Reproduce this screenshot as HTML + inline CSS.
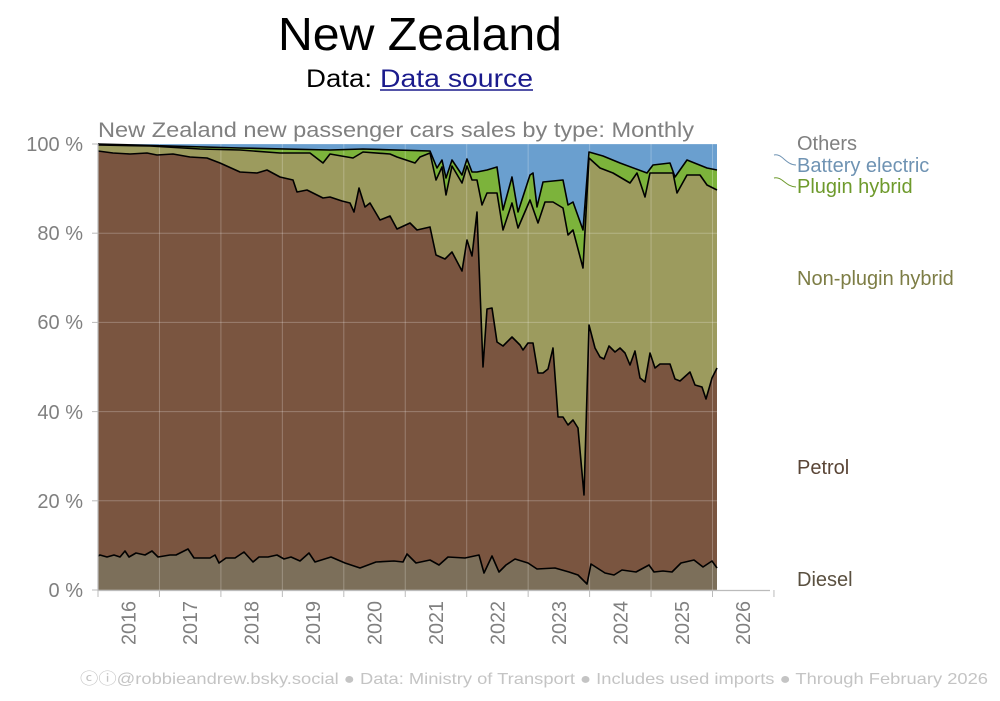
<!DOCTYPE html>
<html><head><meta charset="utf-8"><style>
html,body{margin:0;padding:0;background:#fff;}
svg{display:block;font-family:"Liberation Sans",sans-serif;}
</style></head><body>
<svg id="c" width="1000" height="701" viewBox="0 0 1000 701" xmlns="http://www.w3.org/2000/svg">
<text x="420" y="50" font-size="46" text-anchor="middle" textLength="284" lengthAdjust="spacingAndGlyphs" fill="#000">New Zealand</text>
<text x="306" y="87" font-size="25" textLength="66" lengthAdjust="spacingAndGlyphs" fill="#000">Data:</text>
<text x="380" y="87" font-size="25" textLength="153" lengthAdjust="spacingAndGlyphs" fill="#1a1a8c">Data source</text>
<line x1="380" y1="90" x2="533" y2="90" stroke="#1a1a8c" stroke-width="1.5"/>
<text x="98" y="137" font-size="21" textLength="596" lengthAdjust="spacingAndGlyphs" fill="#808080">New Zealand new passenger cars sales by type: Monthly</text>
<g id="plot"></g>
<g font-size="20" fill="#808080" text-anchor="end">
<text x="83" y="151">100 %</text><text x="83" y="240">80 %</text><text x="83" y="329">60 %</text>
<text x="83" y="419">40 %</text><text x="83" y="508">20 %</text><text x="83" y="597">0 %</text>
</g>
<g id="years" font-size="20" fill="#808080"></g>
<g font-size="20">
<text x="797" y="150" fill="#808080">Others</text>
<text x="797" y="172" fill="#6f93b3">Battery electric</text>
<text x="797" y="193" fill="#6e9a2c">Plugin hybrid</text>
<text x="797" y="285" fill="#7d7d45">Non-plugin hybrid</text>
<text x="797" y="474" fill="#5a4536">Petrol</text>
<text x="797" y="586" fill="#5a5040">Diesel</text>
</g>
<path d="M774 155 C782 153,786 165,796 165" fill="none" stroke="#6f93b3" stroke-width="1"/>
<path d="M774 178 C782 176,786 187,796 187" fill="none" stroke="#6e9a2c" stroke-width="1"/>
<text x="80" y="684" font-size="16" fill="#c4c4c4" textLength="908" lengthAdjust="spacingAndGlyphs">ⓒⓘ@robbieandrew.bsky.social  ●  Data: Ministry of Transport  ●  Includes used imports  ●  Through February 2026</text>
</svg>
<script>
function parse(s){return s.trim().split(/\s*,\s*/).map(p=>p.split(':').map(Number));}
var D=parse("98:556,100:555,107:557,114:555,120:557,125:551,129:557,136:553,145:555,152:551,158:557,170:555,176:555,188:549,194:558,210:558,215:555,219:563,226:558,235:558,244:552,253:562,259:557,268:557,277:555,284:559,291:557,300:561,309:553,315:562,331:557,345:563,360:568,376:562,394:561,403:562,407:554,416:563,430:560,439:565,448:557,465:558,479:555,484:573,492:556,499:572,506:565,515:559,528:563,537:569,555:568,569:572,578:575,587:584,591:564,605:573,614:575,622:570,636:572,649:565,654:572,663:571,672:572,681:563,694:560,703:567,712:561,717:568");
var P=parse("98:151,113:153,130:154,147:153,157:155,173:154,190:157,207:158,220:163,240:172,257:173,267:170,280:177,293:180,297:192,307:190,323:198,330:197,342:201,350:203,354:212,359:188,365:207,370:203,380:220,390:216,397:229,410:223,417:230,430:227,436:255,445:259,452:252,462:271,467:240,472:256,477:212,483:367,487:309,492:308,497:342,503:346,512:337,520:345,523:350,528:343,533:343,538:373,543:373,548:369,553:348,558:417,563:417,568:425,573:420,578:428,584:495,589:325,595:348,600:357,604:359,609:346,615:352,620:348,625:353,630:365,635:351,640:378,645:382,650:353,655:368,660:364,670:364,675:379,680:381,690:372,695:385,702:387,706:399,712:378,717:368");
var N=parse("98:145,150:146,200:149,240:150,280:153,310:153,323:163,330:154,353:158,363:152,390:154,397:157,415:163,420:157,430:153,436:180,442:167,446:195,452:166,462:183,467:166,472:180,477:180,482:205,487:193,497:193,503:230,512:203,518:228,530:200,538:223,545:202,553:202,563:208,568:235,573:230,583:268,589:158,600:168,613:173,630:183,637:173,645:197,650:173,673:173,677:193,687:175,700:175,707:185,717:190");
var H=parse("98:144,240:148,330:150,363:149,430:151,437:168,442:160,446:178,452:160,462:175,467:159,472:172,477:172,487:170,497:167,503:210,512:177,518:212,530:175,533:173,537:207,543:182,563:180,568:205,573:202,583:230,589:152,603:156,620:163,647:173,653:165,670:163,675:177,687:160,707:168,717:170");
var B=[[98,144],[717,144]];
var Z=[[98,590],[717,590]];
function pts(a){return a.map(p=>p[0]+","+p[1]).join(" ");}
function poly(top,bot,fill){var b=bot.slice().reverse();return '<polygon points="'+pts(top)+' '+pts(b)+'" fill="'+fill+'"/>';}
var g='';
g+=poly(B,H,"#6a9fcf");
g+=poly(H,N,"#7cb33b");
g+=poly(N,P,"#9c9b5e");
g+=poly(P,D,"#7a5540");
g+=poly(D,Z,"#7c6f5a");
for(var i=0;i<=5;i++){var y=590-i*89.2;g+='<line x1="98" x2="717" y1="'+y+'" y2="'+y+'" stroke="#fff" stroke-opacity="0.25" stroke-width="1"/>';}
for(var k=0;k<=10;k++){var x=98+k*61.45;if(x<=717)g+='<line x1="'+x+'" x2="'+x+'" y1="144" y2="590" stroke="#fff" stroke-opacity="0.25" stroke-width="1"/>';}
[D,P,N,H].forEach(function(a){g+='<polyline points="'+pts(a)+'" fill="none" stroke="#000" stroke-width="1.6" stroke-linejoin="round"/>';});
g+='<line x1="98" y1="144" x2="98" y2="591" stroke="#bbb" stroke-width="1.2"/>';
g+='<line x1="98" y1="590.5" x2="770" y2="590.5" stroke="#bbb" stroke-width="1.2"/>';
for(var i=0;i<=5;i++){var y=590-i*89.2;g+='<line x1="92" x2="98" y1="'+y+'" y2="'+y+'" stroke="#bbb"/>';}
for(var k=0;k<=11;k++){var x=98+k*61.45;g+='<line x1="'+x+'" x2="'+x+'" y1="590" y2="597" stroke="#bbb"/>';}
document.getElementById('plot').innerHTML=g;
var yg='';
for(var k=0;k<11;k++){var x=98+k*61.45+30.7+7;yg+='<text transform="translate('+x+',645) rotate(-90)" textLength="44" lengthAdjust="spacingAndGlyphs">'+(2016+k)+'</text>';}
document.getElementById('years').innerHTML=yg;
</script>
</body></html>
